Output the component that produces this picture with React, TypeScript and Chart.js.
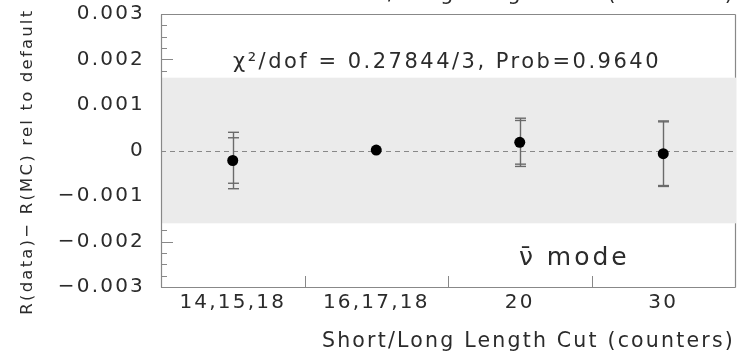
import { useEffect, useRef } from 'react';
import { Chart, registerables } from 'chart.js';

Chart.register(...registerables);

const categories = ['14,15,18', '16,17,18', '20', '30'];
const values = [-0.00022, 0.00001, 0.00018, -0.00007];
const innerErrors = [0.0005, 0, 0.00048, 0.0007];
const outerErrors = [0.00062, 0, 0.00053, 0.00072];
const yTicks = [-0.003, -0.002, -0.001, 0, 0.001, 0.002, 0.003];
const yTickLabels = ['−0.003', '−0.002', '−0.001', '0', '0.001', '0.002', '0.003'];
const yMinorStep = 0.00025;
const bandHalfWidth = 0.0016;
const fitText = 'χ²/dof = 0.27844/3, Prob=0.9640';
const modeText = 'ν̄ mode';
const xTitle = 'Short/Long Length Cut (counters)';
const yTitle = 'R(data)− R(MC) rel to default\u00a0\u00a0\u00a0';

const FAMILY = '"DejaVu Sans", sans-serif';
const TEXT = '#2b2b2b';
const FRAME = '#888';
const SPACING = '2.2px';

const line = (ctx: CanvasRenderingContext2D, x1: number, y1: number, x2: number, y2: number) => {
  ctx.beginPath();
  ctx.moveTo(x1, y1);
  ctx.lineTo(x2, y2);
  ctx.stroke();
};

const decor = {
  id: 'decor',
  beforeUpdate(chart: any) {
    chart.ctx.letterSpacing = SPACING;
  },
  beforeDraw(chart: any) {
    chart.ctx.letterSpacing = SPACING;
  },
  beforeDatasetsDraw(chart: any) {
    const { ctx, chartArea: a, scales } = chart;
    const x = scales.x;
    const y = scales.y;
    ctx.save();
    ctx.strokeStyle = FRAME;
    ctx.lineWidth = 1;
    // y ticks (inside)
    const ymin = yTicks[0];
    const ymax = yTicks[yTicks.length - 1];
    const n = Math.round((ymax - ymin) / yMinorStep);
    for (let i = 0; i <= n; i++) {
      const v = ymin + i * yMinorStep;
      const py = Math.round(y.getPixelForValue(v)) + 0.5;
      const len = i % 4 === 0 ? 12 : 6;
      line(ctx, a.left, py, a.left + len, py);
    }
    // x ticks at category boundaries
    for (let i = 0; i < categories.length - 1; i++) {
      const px = Math.round((x.getPixelForValue(i) + x.getPixelForValue(i + 1)) / 2) + 0.5;
      line(ctx, px, a.bottom, px, a.bottom - 11);
    }
    // band
    const bt = y.getPixelForValue(bandHalfWidth);
    const bb = y.getPixelForValue(-bandHalfWidth);
    ctx.fillStyle = '#ebebeb';
    ctx.fillRect(a.left, bt, a.right - a.left + 1.5, bb - bt);
    // frame
    ctx.strokeStyle = FRAME;
    ctx.lineWidth = 1.2;
    const L = Math.round(a.left) + 0.5;
    const R = Math.round(a.right) + 0.5;
    const T = Math.round(a.top) + 0.5;
    const B = Math.round(a.bottom) + 0.5;
    line(ctx, L, T, R, T);
    line(ctx, L, B, R, B);
    line(ctx, L, T, L, B);
    line(ctx, R, T, R, bt);
    line(ctx, R, bb, R, B);
    // dashed zero line
    ctx.setLineDash([5, 4]);
    ctx.strokeStyle = '#888';
    ctx.lineWidth = 1;
    const y0 = Math.round(y.getPixelForValue(0)) + 0.5;
    line(ctx, a.left, y0, a.right, y0);
    ctx.setLineDash([]);
    // error bars
    ctx.strokeStyle = '#6a6a6a';
    ctx.lineWidth = 1.4;
    values.forEach((v, i) => {
      const px = Math.round(x.getPixelForValue(i)) + 0.5;
      const errs = [innerErrors[i], outerErrors[i]];
      const maxE = Math.max(...errs);
      if (maxE <= 0) return;
      line(ctx, px, y.getPixelForValue(v + maxE), px, y.getPixelForValue(v - maxE));
      errs.forEach((e) => {
        if (e <= 0) return;
        const top = y.getPixelForValue(v + e);
        const bot = y.getPixelForValue(v - e);
        line(ctx, px - 5.5, top, px + 5.5, top);
        line(ctx, px - 5.5, bot, px + 5.5, bot);
      });
    });
    ctx.restore();
  },
  afterDraw(chart: any) {
    const { ctx, chartArea: a, scales } = chart;
    const x = scales.x;
    const y = scales.y;
    ctx.save();
    ctx.fillStyle = TEXT;
    ctx.textBaseline = 'alphabetic';
    // fit text
    ctx.letterSpacing = '2.5px';
    ctx.font = `21px ${FAMILY}`;
    ctx.textAlign = 'center';
    ctx.fillText(fitText, (a.left + a.right) / 2 - 1, y.getPixelForValue(0.00182));
    // mode text
    ctx.letterSpacing = '3px';
    ctx.font = `25px ${FAMILY}`;
    ctx.fillText(modeText, x.getPixelForValue(2.38), y.getPixelForValue(-0.00252));
    // cut-off upper title
    ctx.letterSpacing = SPACING;
    ctx.font = `20.5px ${FAMILY}`;
    ctx.textAlign = 'right';
    ctx.fillText(xTitle, a.right, 0);
    ctx.restore();
  },
};

export default function App() {
  const ref = useRef<HTMLCanvasElement | null>(null);
  useEffect(() => {
    document.body.style.margin = '0';
    const canvas = ref.current;
    if (!canvas) return;
    const chart = new Chart(canvas, {
      type: 'line',
      data: {
        labels: categories,
        datasets: [
          {
            data: values,
            showLine: false,
            pointRadius: 5.5,
            pointHoverRadius: 5.5,
            pointBackgroundColor: '#000',
            pointBorderColor: '#000',
            pointBorderWidth: 0,
          },
        ],
      },
      options: {
        animation: false,
        responsive: false,
        devicePixelRatio: 1,
        layout: { padding: { top: 14, right: 6, left: 0, bottom: 0 } },
        plugins: { legend: { display: false }, tooltip: { enabled: false }, title: { display: false } },
        scales: {
          x: {
            type: 'category',
            offset: true,
            grid: { display: false, drawTicks: false },
            border: { display: false },
            ticks: { padding: 4, color: TEXT, font: { family: FAMILY, size: 20 }, maxRotation: 0, autoSkip: false },
            title: {
              display: true,
              text: xTitle,
              align: 'end',
              color: TEXT,
              font: { family: FAMILY, size: 20.5 },
              padding: { top: 0, bottom: 2 },
            },
            afterFit(s: any) {
              s.height = 69;
            },
          },
          y: {
            type: 'linear',
            min: yTicks[0],
            max: yTicks[yTicks.length - 1],
            grid: { display: false, drawTicks: true, tickLength: 16 },
            border: { display: false },
            afterBuildTicks(s: any) {
              s.ticks = yTicks.map((v) => ({ value: v }));
            },
            ticks: {
              padding: 0,
              color: TEXT,
              font: { family: FAMILY, size: 20 },
              callback: (_v: any, i: number) => yTickLabels[i],
            },
            title: {
              display: true,
              text: yTitle,
              color: TEXT,
              font: { family: FAMILY, size: 16.5 },
              padding: { top: 17.5, bottom: 0 },
            },
            afterFit(s: any) {
              s.width = 161;
            },
          },
        },
      },
      plugins: [decor],
    });
    return () => chart.destroy();
  }, []);
  return (
    <div style={{ position: 'absolute', left: 0, top: 0, width: 741, height: 356 }}>
      <canvas ref={ref} width={741} height={356} />
    </div>
  );
}
